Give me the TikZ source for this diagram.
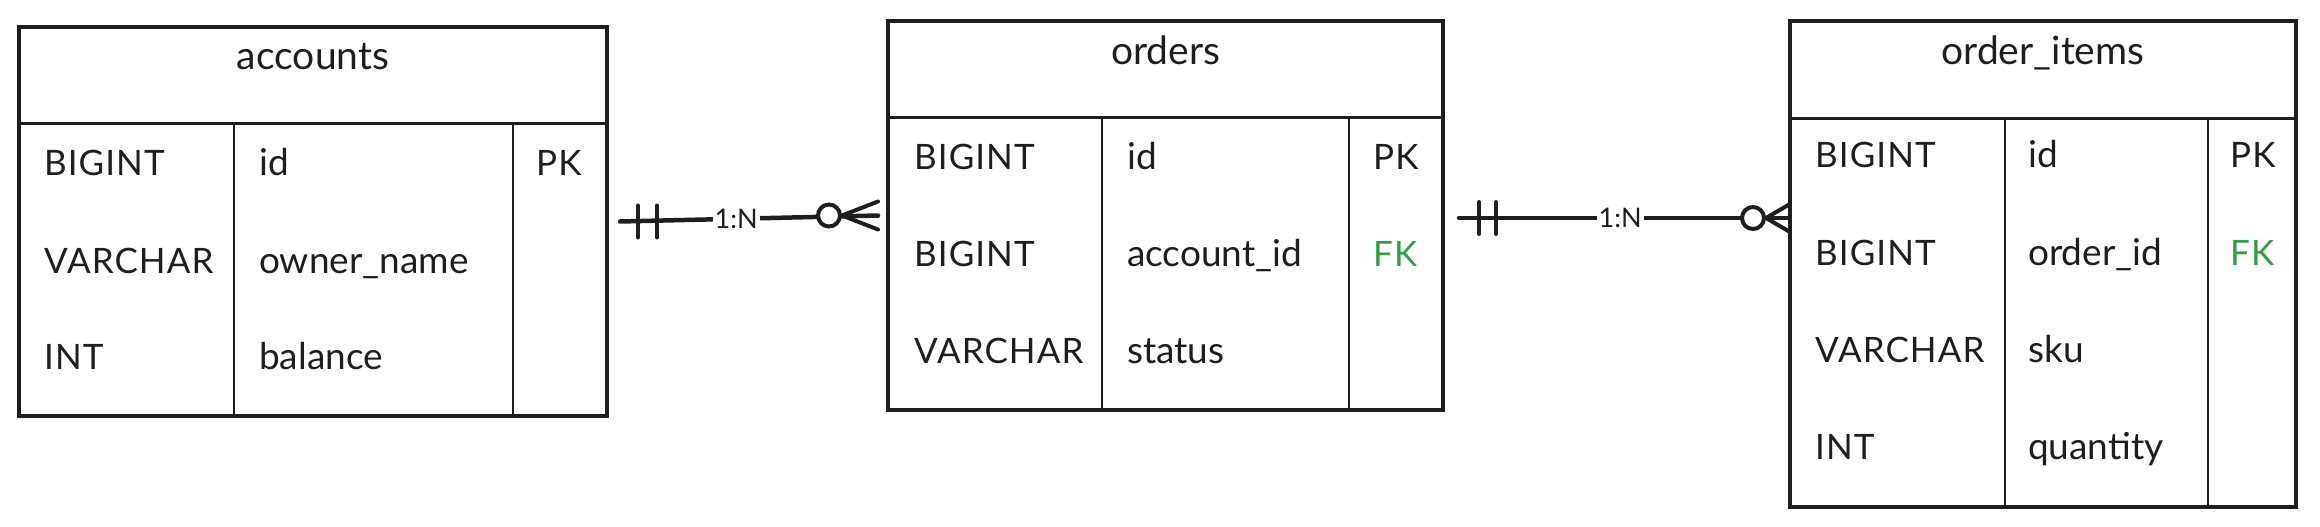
\documentclass[tikz,border=0pt]{standalone}
\usepackage{fontspec}
\setmainfont{Lato}
\newfontfamily\capsfont[LetterSpace=3]{Lato}
\usetikzlibrary{calc}
\definecolor{ink}{HTML}{1E1E1E}
\definecolor{fkgreen}{HTML}{2F9E44}
\tikzset{
  tbl/.style={draw=ink, line width=4pt, rectangle, inner sep=0pt},
  hdr/.style={draw=ink, line width=3pt},
  div/.style={draw=ink, line width=2.2pt},
  ttl/.style={text=ink, font=\fontsize{39}{44}\selectfont, inner sep=0pt, anchor=base},
  fld/.style={text=ink, font=\fontsize{37}{42}\selectfont, inner sep=0pt, anchor=base west},
  ctype/.style={text=ink, font=\fontsize{35}{40}\capsfont, inner sep=0pt, anchor=base west},
  fkey/.style={ctype, text=fkgreen},
  pkey/.style={ctype},
  rel/.style={draw=ink, line width=4.5pt, line cap=round},
  relmark/.style={draw=ink, line width=4pt, line cap=round},
  card/.style={text=ink, fill=white, font=\fontsize{27}{30}\selectfont, inner sep=2pt}
}
\begin{document}
\begin{tikzpicture}[x=1pt,y=-1pt]
\useasboundingbox (0,0) rectangle (2320,527);

% ---------- accounts ----------
\node[tbl, minimum width=588pt, minimum height=389pt] (acc) at (313,221.5) {};
\draw[hdr] (acc.west |- 0,123) -- (acc.east |- 0,123);
\draw[div] (234,123) -- (acc.south -| 234,0);
\draw[div] (513,123) -- (acc.south -| 513,0);
\node[ttl] (acc-title) at (313,70) {accounts};
\node[ctype] (acc-t1) at (44,175) {BIGINT};
\node[fld] (acc-n1) at (259,175) {id};
\node[pkey] (acc-k1) at (536,175) {PK};
\node[ctype] (acc-t2) at (44,273) {VARCHAR};
\node[fld] (acc-n2) at (259,273) {owner\_name};
\node[ctype] (acc-t3) at (44,369) {INT};
\node[fld] (acc-n3) at (259,369) {balance};

% ---------- orders ----------
\node[tbl, minimum width=555pt, minimum height=389pt] (ord) at (1165.5,215.5) {};
\draw[hdr] (ord.west |- 0,117) -- (ord.east |- 0,117);
\draw[div] (1102,117) -- (ord.south -| 1102,0);
\draw[div] (1349,117) -- (ord.south -| 1349,0);
\node[ttl] (ord-title) at (1165.5,64) {orders};
\node[ctype] (ord-t1) at (914,169) {BIGINT};
\node[fld] (ord-n1) at (1127,169) {id};
\node[pkey] (ord-k1) at (1373,169) {PK};
\node[ctype] (ord-t2) at (914,266) {BIGINT};
\node[fld] (ord-n2) at (1127,266) {account\_id};
\node[fkey] (ord-k2) at (1373,266) {FK};
\node[ctype] (ord-t3) at (914,363) {VARCHAR};
\node[fld] (ord-n3) at (1127,363) {status};

% ---------- order_items ----------
\node[tbl, minimum width=506pt, minimum height=486pt] (itm) at (2043,264) {};
\draw[hdr] (itm.west |- 0,118) -- (itm.east |- 0,118);
\draw[div] (2005,118) -- (itm.south -| 2005,0);
\draw[div] (2208,118) -- (itm.south -| 2208,0);
\node[ttl] (itm-title) at (2043,64) {order\_items};
\node[ctype] (itm-t1) at (1815,167) {BIGINT};
\node[fld] (itm-n1) at (2028,167) {id};
\node[pkey] (itm-k1) at (2230,167) {PK};
\node[ctype] (itm-t2) at (1815,265) {BIGINT};
\node[fld] (itm-n2) at (2028,265) {order\_id};
\node[fkey] (itm-k2) at (2230,265) {FK};
\node[ctype] (itm-t3) at (1815,362) {VARCHAR};
\node[fld] (itm-n3) at (2028,362) {sku};
\node[ctype] (itm-t4) at (1815,459) {INT};
\node[fld] (itm-n4) at (2028,459) {quantity};

% ---------- relation accounts -> orders ----------
\coordinate (r1a) at ([xshift=11pt]acc.east);
\coordinate (r1b) at ([xshift=-8pt]ord.west);
\draw[rel] (r1a) -- node[card, pos=0.45] (r1lab) {1:N} (r1b);
\draw[relmark] ($(r1a)+(18,-16)$) -- ($(r1a)+(18,16)$);
\draw[relmark] ($(r1a)+(37,-16)$) -- ($(r1a)+(37,16)$);
\draw[relmark, fill=white] ($(r1b)+(-49,0)$) circle (11pt);
\draw[relmark] ($(r1b)+(-36,0)$) -- ($(r1b)+(0,-14)$);
\draw[relmark] ($(r1b)+(-36,0)$) -- ($(r1b)+(0,0)$);
\draw[relmark] ($(r1b)+(-36,0)$) -- ($(r1b)+(0,14)$);

% ---------- relation orders -> order_items ----------
\coordinate (r2a) at ([xshift=14pt,yshift=-2.5pt]ord.east);
\coordinate (r2b) at (r2a -| itm.west);
\draw[rel] (r2a) -- node[card, pos=0.49] (r2lab) {1:N} (r2b);
\draw[relmark] ($(r2a)+(20,-16)$) -- ($(r2a)+(20,16)$);
\draw[relmark] ($(r2a)+(37,-16)$) -- ($(r2a)+(37,16)$);
\draw[relmark, fill=white] ($(r2b)+(-35,0)$) circle (11pt);
\draw[relmark] ($(r2b)+(-22,0)$) -- ($(r2b)+(2,-14)$);
\draw[relmark] ($(r2b)+(-22,0)$) -- ($(r2b)+(2,0)$);
\draw[relmark] ($(r2b)+(-22,0)$) -- ($(r2b)+(2,14)$);
\end{tikzpicture}
\end{document}
